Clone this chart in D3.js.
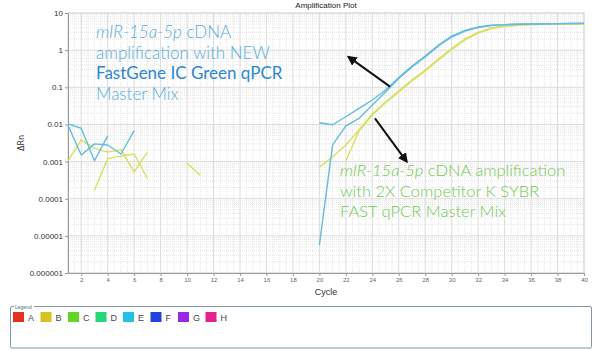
<!DOCTYPE html>
<html>
<head>
<meta charset="utf-8">
<title>Amplification Plot</title>
<script src="https://cdn.jsdelivr.net/npm/d3@7"></script>
<style>
  body { margin: 0; background: #fff; }
  svg { display: block; }
  .axis text { font-family: "Liberation Sans", Arial, sans-serif; }
  .note { font-family: Lato, "Open Sans", sans-serif; font-weight: 300; }
</style>
</head>
<body>
<svg id="chart" width="600" height="350"></svg>
<script>
// ---- data ----
var xTicks = [2, 4, 6, 8, 10, 12, 14, 16, 18, 20, 22, 24, 26, 28, 30, 32, 34, 36, 38, 40];
var yTicks = [10, 1, 0.1, 0.01, 0.001, 0.0001, 0.00001, 0.000001];
var yTickLabels = ["10", "1", "0.1", "0.01", "0.001", "0.0001", "0.00001", "0.000001"];

// baseline noise (start cycle, values)
var blueNoise1 = [0.0095, 0.0015, 0.003, 0.0028, 0.0016, 0.0068];        // cycles 1-6
var blueNoise2 = [0.0103, 0.0079, 0.00105, 0.0049];                      // cycles 1-4
var yellowNoise1 = [0.00105, 0.0038, 0.0023, 0.0018, 0.0021, 0.00053, 0.0018]; // cycles 1-7
var yellowNoise2 = [0.00017, 0.0012, 0.0014, 0.0016, 0.00035];           // cycles 3-7
var yellowNoise3 = [0.0009, 0.00042];                                    // cycles 10-11

// amplification curves
var blueA = [0.0111, 0.0098, 0.0161, 0.0272, 0.0455, 0.0845, 0.183, 0.374, 0.695, 1.37, 2.40,
             3.38, 4.20, 4.67, 4.87, 4.97, 5.06, 5.12, 5.19, 5.25, 5.28];       // cycles 20-40
var blueB = [0.0000057, 0.0028, 0.0091, 0.0146, 0.0334, 0.0746, 0.172, 0.352, 0.653, 1.29, 2.26,
             3.27, 4.07, 4.61, 4.87, 4.97, 5.06, 5.1, 5.15, 5.2, 5.25];          // cycles 20-40
var yellowA = [0.0007, 0.00135, 0.0028, 0.0071, 0.0191, 0.0402, 0.0794, 0.157, 0.292, 0.577, 1.11,
               2.00, 2.99, 3.94, 4.47, 4.75, 4.87, 4.93, 4.99, 5.02, 5.06];      // cycles 20-40
var yellowB = [0.00105, 0.00665, 0.0179, 0.0383, 0.0746, 0.148, 0.275, 0.546, 1.05,
               1.88, 2.89, 3.83, 4.40, 4.70, 4.85, 4.92, 4.98, 5.02, 5.05];     // cycles 22-40

var legendKeys = ["A", "B", "C", "D", "E", "F", "G", "H"];
var legendColours = ["#e2321f", "#d6c322", "#62d625", "#22d877", "#22c2e6", "#2440e0", "#9a26e6", "#e42390"];

// ---- layout ----
var chart = d3.select("#chart");
var plot = { left: 68, right: 584, top: 13, bottom: 273 };
var blue = "#62bddc", yellow = "#d9df5e";

var x = d3.scaleLinear().domain([1, 40]).range([plot.left, plot.right]);
var y = d3.scaleLog().domain([0.000001, 10]).range([plot.bottom, plot.top]);

// grid
var grid = chart.append("g");
var minorX = d3.range(1, 40.01, 0.5).filter(function(c) { return c % 2 !== 0; });
var minorY = [];
d3.range(-6, 1).forEach(function(e) {
  d3.range(2, 10).forEach(function(m) { minorY.push(m * Math.pow(10, e)); });
});
grid.selectAll(".mx").data(minorX).enter().append("line")
  .attr("x1", x).attr("x2", x).attr("y1", plot.top).attr("y2", plot.bottom)
  .attr("stroke", "#e6e6e6").attr("stroke-dasharray", "1,1");
grid.selectAll(".my").data(minorY).enter().append("line")
  .attr("y1", y).attr("y2", y).attr("x1", plot.left).attr("x2", plot.right)
  .attr("stroke", "#e6e6e6").attr("stroke-dasharray", "1,1");
grid.selectAll(".gx").data(xTicks).enter().append("line")
  .attr("x1", x).attr("x2", x).attr("y1", plot.top).attr("y2", plot.bottom)
  .attr("stroke", "#dcdcdc");
grid.selectAll(".gy").data(yTicks).enter().append("line")
  .attr("y1", y).attr("y2", y).attr("x1", plot.left).attr("x2", plot.right)
  .attr("stroke", "#dcdcdc");
grid.append("rect")
  .attr("x", plot.left).attr("y", plot.top)
  .attr("width", plot.right - plot.left).attr("height", plot.bottom - plot.top)
  .attr("fill", "none").attr("stroke", "#d8d8d8");

// axes
var xAxis = d3.axisBottom(x).tickValues(xTicks).tickSize(3).tickSizeOuter(0);
var yAxis = d3.axisLeft(y).tickValues(yTicks).tickSize(3).tickSizeOuter(0)
  .tickFormat(function(d, i) { return yTickLabels[i]; });
var xg = chart.append("g").attr("class", "axis")
  .attr("transform", "translate(0," + plot.bottom + ")").call(xAxis);
xg.selectAll("text").attr("font-size", 6).attr("fill", "#666").attr("dy", "0.55em");
var yg = chart.append("g").attr("class", "axis")
  .attr("transform", "translate(" + plot.left + ",0)").call(yAxis);
yg.selectAll("text").attr("font-size", 8).attr("fill", "#333").attr("x", -5);
chart.selectAll(".axis path, .axis line").attr("stroke", "#9a9a9a");

// titles
chart.append("text").attr("x", 326).attr("y", 8).attr("text-anchor", "middle")
  .attr("font-family", "Liberation Sans, Arial, sans-serif").attr("font-size", 8).attr("fill", "#222")
  .text("Amplification Plot");
chart.append("text").attr("x", 326).attr("y", 295).attr("text-anchor", "middle")
  .attr("font-family", "Liberation Sans, Arial, sans-serif").attr("font-size", 9).attr("fill", "#333")
  .text("Cycle");
chart.append("text").attr("transform", "translate(24,143) rotate(-90)").attr("text-anchor", "middle")
  .attr("font-family", "DejaVu Sans, sans-serif").attr("font-size", 8).attr("fill", "#333")
  .text("ΔRn");

// curves
var line = d3.line().x(function(d) { return x(d.c); }).y(function(d) { return y(d.v); });
var series = [
  { start: 1, values: yellowNoise1, colour: yellow },
  { start: 3, values: yellowNoise2, colour: yellow },
  { start: 10, values: yellowNoise3, colour: yellow },
  { start: 1, values: blueNoise1, colour: blue },
  { start: 1, values: blueNoise2, colour: blue },
  { start: 20, values: yellowA, colour: yellow },
  { start: 22, values: yellowB, colour: yellow },
  { start: 20, values: blueA, colour: blue },
  { start: 20, values: blueB, colour: blue }
];
chart.append("g").selectAll("path").data(series).enter().append("path")
  .attr("d", function(s) {
    return line(s.values.map(function(v, i) { return { c: s.start + i, v: v }; }));
  })
  .attr("fill", "none").attr("stroke", function(s) { return s.colour; })
  .attr("stroke-width", 1.4).attr("stroke-linejoin", "round");

// arrows
chart.append("defs").append("marker").attr("id", "head")
  .attr("viewBox", "0 0 10 10").attr("refX", 8).attr("refY", 5)
  .attr("markerWidth", 5).attr("markerHeight", 5).attr("orient", "auto")
  .append("path").attr("d", "M0,0L10,5L0,10z").attr("fill", "#111");
var arrows = [
  { from: [25.34, 0.104], to: [22.2, 0.66] },
  { from: [24.2, 0.0146], to: [26.6, 0.001] }
];
chart.append("g").selectAll("line").data(arrows).enter().append("line")
  .attr("x1", function(d) { return x(d.from[0]); }).attr("y1", function(d) { return y(d.from[1]); })
  .attr("x2", function(d) { return x(d.to[0]); }).attr("y2", function(d) { return y(d.to[1]); })
  .attr("stroke", "#111").attr("stroke-width", 2).attr("marker-end", "url(#head)");

// annotations
function note(lines, x0, y0, colour, size) {
  var t = chart.append("text").attr("class", "note").attr("font-size", size);
  lines.forEach(function(l, i) {
    l.forEach(function(part, j) {
      var s = t.append("tspan").text(part.t).attr("fill", part.c || colour);
      if (j === 0) s.attr("x", x0).attr("y", y0 + i * 20.5);
      if (part.i) s.attr("font-style", "italic");
      if (part.w) s.attr("font-weight", part.w);
    });
  });
}
note([
  [{ t: "mIR-15a-5p", i: true }, { t: " cDNA" }],
  [{ t: "amplification  with NEW" }],
  [{ t: "FastGene IC Green qPCR", c: "#2b87d3", w: 400 }],
  [{ t: "Master Mix" }]
], 96, 38, "#58acdf", 17);
note([
  [{ t: "mIR-15a-5p", i: true }, { t: " cDNA amplification" }],
  [{ t: "with 2X Competitor K SYBR" }],
  [{ t: "FAST qPCR Master Mix" }]
], 340, 176, "#74c653", 16.5);

// legend
var legend = chart.append("g");
legend.append("rect").attr("x", 10.5).attr("y", 306.5).attr("width", 581).attr("height", 41.5)
  .attr("rx", 1.5).attr("fill", "none").attr("stroke", "#8096a8");
legend.append("rect").attr("x", 14).attr("y", 304).attr("width", 20).attr("height", 5).attr("fill", "#fff");
legend.append("text").attr("x", 15).attr("y", 308.5)
  .attr("font-family", "Liberation Sans, Arial, sans-serif").attr("font-size", 5).attr("fill", "#4a6a80")
  .text("Legend");
var item = legend.selectAll(".item").data(legendKeys).enter().append("g")
  .attr("transform", function(d, i) { return "translate(" + (13 + i * 27.5) + ",312)"; });
item.append("rect").attr("width", 11).attr("height", 10)
  .attr("fill", function(d, i) { return legendColours[i]; });
item.append("text").attr("x", 15).attr("y", 8.5)
  .attr("font-family", "Liberation Sans, Arial, sans-serif").attr("font-size", 9).attr("fill", "#444")
  .text(function(d) { return d; });
</script>
</body>
</html>
